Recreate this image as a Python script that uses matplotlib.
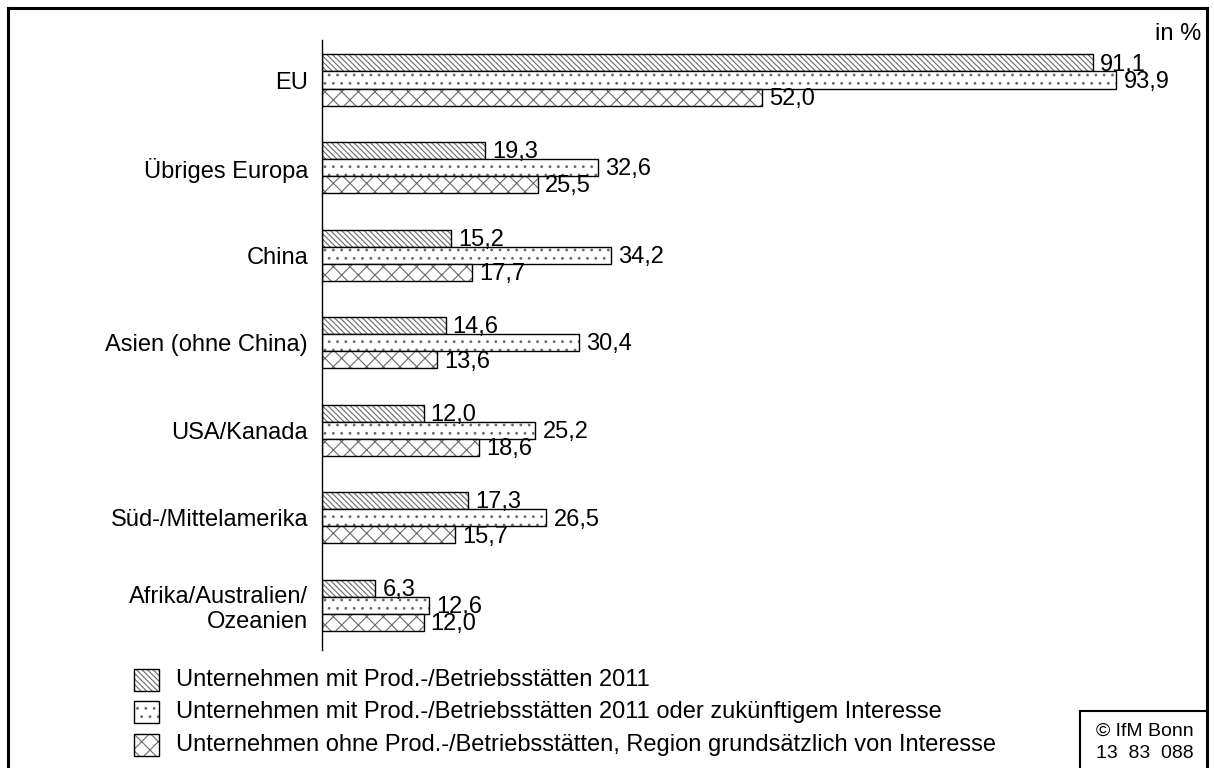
import matplotlib
matplotlib.use("Agg")
import matplotlib.pyplot as plt
from matplotlib.lines import Line2D
from matplotlib.patches import Rectangle
import numpy as np

plt.rcParams['font.family'] = ['Liberation Sans', 'DejaVu Sans']
plt.rcParams['hatch.linewidth'] = 0.8

categories = ["EU", "Übriges Europa", "China", "Asien (ohne China)", "USA/Kanada",
              "Süd-/Mittelamerika", "Afrika/Australien/\nOzeanien"]
series_names = ["Unternehmen mit Prod.-/Betriebsstätten 2011",
                "Unternehmen mit Prod.-/Betriebsstätten 2011 oder zukünftigem Interesse",
                "Unternehmen ohne Prod.-/Betriebsstätten, Region grundsätzlich von Interesse"]
s1 = [91.1, 19.3, 15.2, 14.6, 12.0, 17.3, 6.3]
s2 = [93.9, 32.6, 34.2, 30.4, 25.2, 26.5, 12.6]
s3 = [52.0, 25.5, 17.7, 13.6, 18.6, 15.7, 12.0]
hatches = ['\\' * 6, '..', 'xx']
hatch_col = '#6a6a6a'

W, H = 1214, 768
fig = plt.figure(figsize=(W / 100, H / 100), dpi=100)
ax_left, ax_right, ax_top, ax_bot = 322, 1168, 40, 650
ax = fig.add_axes([ax_left / W, 1 - ax_bot / H, (ax_right - ax_left) / W, (ax_bot - ax_top) / H])

bh = 0.195
y = np.arange(len(categories))
for k, (vals, h) in enumerate(zip([s1, s2, s3], hatches)):
    pos = y + (k - 1) * bh
    ax.barh(pos, vals, height=bh, color='white', edgecolor=hatch_col,
            hatch=h, linewidth=0)
    ax.barh(pos, vals, height=bh, fill=False, edgecolor='black', linewidth=1.0)
    for p, v in zip(pos, vals):
        ax.text(v + 0.85, p + 0.02, f"{v:.1f}".replace('.', ','), va='center', ha='left',
                fontsize=17)

ax.set_xlim(0, 100)
ax.set_ylim(6.51, -0.457)
for s in ['top', 'right', 'bottom']:
    ax.spines[s].set_visible(False)
ax.spines['left'].set_linewidth(1.0)
ax.set_xticks([])
ax.set_yticks(y)
ax.set_yticklabels(categories, fontsize=17, ha='right', multialignment='right')
ax.tick_params(axis='y', length=0, pad=10)

# legend
leg_y = [680, 712, 745]
for ly, h, name in zip(leg_y, hatches, series_names):
    fig.add_artist(Rectangle((134 / W, 1 - (ly + 11) / H), 25 / W, 22 / H,
                             transform=fig.transFigure, facecolor='white',
                             edgecolor=hatch_col, hatch=h, linewidth=0))
    fig.add_artist(Rectangle((134 / W, 1 - (ly + 11) / H), 25 / W, 22 / H,
                             transform=fig.transFigure, fill=False,
                             edgecolor='black', linewidth=1.0))
    fig.text(176 / W, 1 - ly / H, name, fontsize=17, va='center', ha='left')

fig.text(1201 / W, 1 - 34 / H, "in %", fontsize=17, va='center', ha='right')

# frame
lw = 2.2
fig.add_artist(Line2D([8 / W, 1207 / W], [1 - 8 / H, 1 - 8 / H], color='black', lw=lw))
fig.add_artist(Line2D([8 / W, 8 / W], [0, 1 - 8 / H], color='black', lw=lw))
fig.add_artist(Line2D([1207 / W, 1207 / W], [0, 1 - 8 / H], color='black', lw=lw))

# copyright box
fig.add_artist(Line2D([1080 / W, 1207 / W], [1 - 711 / H, 1 - 711 / H], color='black', lw=1.5))
fig.add_artist(Line2D([1080 / W, 1080 / W], [0, 1 - 711 / H], color='black', lw=1.5))
fig.text(1145 / W, 1 - 731 / H, "© IfM Bonn", fontsize=14, ha='center', va='center')
fig.text(1145 / W, 1 - 753 / H, "13  83  088", fontsize=14, ha='center', va='center')

fig.savefig("out.png", dpi=100, facecolor='white')
